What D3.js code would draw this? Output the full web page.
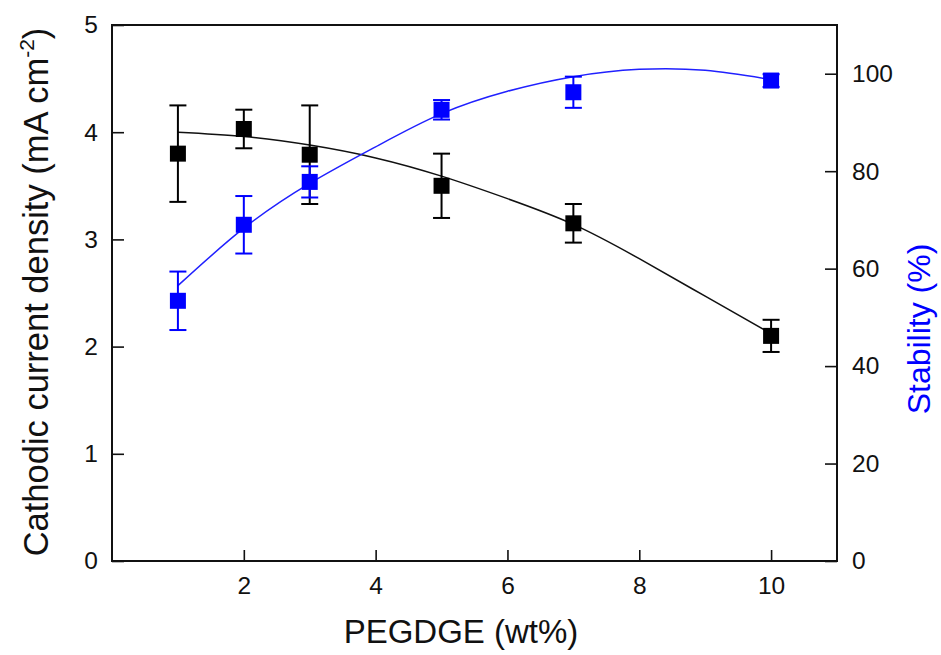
<!DOCTYPE html>
<html>
<head>
<meta charset="utf-8">
<script src="https://cdn.jsdelivr.net/npm/d3@7"></script>
<style>
  body { margin: 0; background: #fff; }
  svg { display: block; }
</style>
</head>
<body>
<div id="chart"></div>
<script>
// measured points
const pegdge = [1, 2, 3, 5, 7, 10];
const current = [3.80, 4.03, 3.79, 3.50, 3.15, 2.10];
const currentErr = [0.45, 0.18, 0.46, 0.30, 0.18, 0.15];
const stability = [53.4, 69.0, 77.8, 92.6, 96.2, 98.6];
const stabilityErr = [6.0, 5.9, 3.2, 2.0, 3.2, 1.3];

// fitted curves
const fitX = [1, 2, 3, 4, 5, 6, 7, 8, 9, 10];
const currentFit = [4.00, 3.96, 3.88, 3.76, 3.59, 3.38, 3.14, 2.82, 2.47, 2.12];
const stabilityFit = [56.5, 68.3, 77.5, 85.0, 91.8, 96.4, 99.4, 100.9, 100.7, 98.8];

const xTicks = [2, 4, 6, 8, 10];
const leftTicks = [0, 1, 2, 3, 4, 5];
const rightTicks = [0, 20, 40, 60, 80, 100];

const W = 941, H = 655;
const margin = { left: 112, right: 104, top: 25, bottom: 94 };
const width = W - margin.left - margin.right;
const height = H - margin.top - margin.bottom;
const blue = '#0000ff';
const font = 'Liberation Sans, Arial, sans-serif';

const svg = d3.select('#chart').append('svg')
  .attr('width', W)
  .attr('height', H)
  .attr('font-family', font);

const g = svg.append('g')
  .attr('transform', `translate(${margin.left},${margin.top})`);

const x = d3.scaleLinear().domain([0, 11]).range([0, width]);
const yL = d3.scaleLinear().domain([0, 5]).range([height, 0]);
const yR = d3.scaleLinear().domain([0, 110]).range([height, 0]);

// frame
g.append('rect')
  .attr('x', 0).attr('y', 0)
  .attr('width', width).attr('height', height)
  .attr('fill', 'none')
  .attr('stroke', '#111')
  .attr('stroke-width', 2);

// axes, ticks pointing in
function styleAxis(sel) {
  sel.select('.domain').remove();
  sel.selectAll('.tick line').attr('stroke', '#111').attr('stroke-width', 1.6);
  sel.selectAll('.tick text').attr('font-size', 24.5).attr('fill', '#111').attr('font-family', font);
}

g.append('g')
  .attr('transform', `translate(0,${height})`)
  .call(d3.axisBottom(x).tickValues(xTicks).tickFormat(d3.format('d'))
    .tickSizeInner(-11).tickSizeOuter(0).tickPadding(16))
  .call(styleAxis);

g.append('g')
  .call(d3.axisLeft(yL).tickValues(leftTicks).tickFormat(d3.format('d'))
    .tickSizeInner(-12).tickSizeOuter(0).tickPadding(14))
  .call(styleAxis);

g.append('g')
  .attr('transform', `translate(${width},0)`)
  .call(d3.axisRight(yR).tickValues(rightTicks).tickFormat(d3.format('d'))
    .tickSizeInner(-12).tickSizeOuter(0).tickPadding(15))
  .call(styleAxis);

// axis titles
svg.append('text')
  .attr('x', 461)
  .attr('y', 643)
  .attr('text-anchor', 'middle')
  .attr('font-size', 33)
  .attr('fill', '#111')
  .text('PEGDGE (wt%)');

const lt = svg.append('text')
  .attr('transform', `translate(48,${margin.top + height / 2 - 1}) rotate(-90)`)
  .attr('text-anchor', 'middle')
  .attr('font-size', 34.5)
  .attr('fill', '#111');
lt.append('tspan').text('Cathodic current density (mA cm');
lt.append('tspan').attr('font-size', 21).attr('dy', -14).text('-2');
lt.append('tspan').attr('dy', 14).text(')');

svg.append('text')
  .attr('transform', `translate(930,${margin.top + height / 2 + 36}) rotate(-90)`)
  .attr('text-anchor', 'middle')
  .attr('font-size', 32)
  .attr('fill', blue)
  .text('Stability (%)');

// one series: fit line, error bars, square markers
function drawSeries(y, vals, errs, fit, color, lineColor) {
  const s = g.append('g');
  const line = d3.line()
    .x((d, i) => x(fitX[i]))
    .y(d => y(d))
    .curve(d3.curveNatural);
  s.append('path')
    .datum(fit)
    .attr('d', line)
    .attr('fill', 'none')
    .attr('stroke', lineColor)
    .attr('stroke-width', 1.5);

  const cap = 8.5;
  const eb = s.selectAll('.eb').data(vals).join('g').attr('class', 'eb');
  eb.append('line')
    .attr('x1', (d, i) => x(pegdge[i])).attr('x2', (d, i) => x(pegdge[i]))
    .attr('y1', (d, i) => y(d - errs[i])).attr('y2', (d, i) => y(d + errs[i]))
    .attr('stroke', color).attr('stroke-width', 2);
  eb.append('line')
    .attr('x1', (d, i) => x(pegdge[i]) - cap).attr('x2', (d, i) => x(pegdge[i]) + cap)
    .attr('y1', (d, i) => y(d + errs[i])).attr('y2', (d, i) => y(d + errs[i]))
    .attr('stroke', color).attr('stroke-width', 2);
  eb.append('line')
    .attr('x1', (d, i) => x(pegdge[i]) - cap).attr('x2', (d, i) => x(pegdge[i]) + cap)
    .attr('y1', (d, i) => y(d - errs[i])).attr('y2', (d, i) => y(d - errs[i]))
    .attr('stroke', color).attr('stroke-width', 2);

  const sz = 16;
  s.selectAll('.pt').data(vals).join('rect')
    .attr('class', 'pt')
    .attr('x', (d, i) => x(pegdge[i]) - sz / 2)
    .attr('y', d => y(d) - sz / 2)
    .attr('width', sz).attr('height', sz)
    .attr('fill', color);
}

drawSeries(yL, current, currentErr, currentFit, '#000', '#111');
drawSeries(yR, stability, stabilityErr, stabilityFit, blue, '#2020ff');
</script>
</body>
</html>
